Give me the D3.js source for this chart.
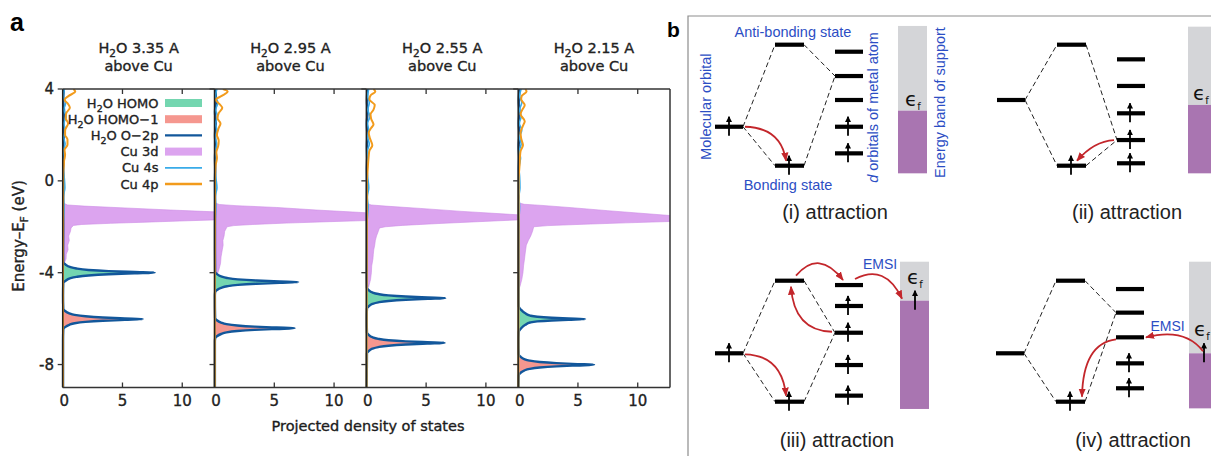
<!DOCTYPE html>
<html>
<head>
<meta charset="utf-8">
<script src="https://cdn.jsdelivr.net/npm/d3@7"></script>
<style>
  body { margin: 0; background: #fff; }
  svg { display: block; font-family: "DejaVu Sans", sans-serif; }
  .panel-a text { stroke: #222; stroke-width: 0.35; }
  .sch { font-family: "Liberation Sans", Arial, sans-serif; }
</style>
</head>
<body>
<svg id="fig" width="1211" height="456"></svg>
<script>
// ---------------- panel a data (energy in eV, PDOS value) ----------------
const distances = ["3.35", "2.95", "2.55", "2.15"];
const xTicks = [0, 5, 10];
const yTicks = [4, 0, -4, -8];
const legendLabels = ["H2O HOMO", "H2O HOMO−1", "H2O O−2p", "Cu 3d", "Cu 4s", "Cu 4p"];

// H2O HOMO peak, one array per panel
const homo = [
  [[-3.55,0.05],[-3.65,0.25],[-3.75,0.6],[-3.82,1.15],[-3.88,2.15],[-3.93,3.85],[-3.97,6.0],[-4.0,7.7],[-4.03,6.0],[-4.07,3.85],[-4.12,2.15],[-4.18,1.15],[-4.25,0.6],[-4.35,0.25],[-4.45,0.05]],
  [[-3.96,0.05],[-4.06,0.2],[-4.16,0.55],[-4.23,1.05],[-4.29,1.95],[-4.34,3.5],[-4.38,5.45],[-4.41,7.0],[-4.44,5.45],[-4.48,3.5],[-4.53,1.95],[-4.59,1.05],[-4.66,0.55],[-4.76,0.2],[-4.86,0.05]],
  [[-4.66,0.05],[-4.76,0.2],[-4.86,0.5],[-4.93,1.0],[-4.99,1.85],[-5.04,3.3],[-5.08,5.15],[-5.11,6.6],[-5.14,5.15],[-5.18,3.3],[-5.23,1.85],[-5.29,1.0],[-5.36,0.5],[-5.46,0.2],[-5.56,0.05]],
  [[-5.47,0.05],[-5.62,0.25],[-5.77,0.6],[-5.87,1.0],[-5.92,1.6],[-5.96,2.8],[-5.99,4.2],[-6.02,5.6],[-6.05,4.2],[-6.08,2.8],[-6.12,1.6],[-6.17,1.0],[-6.27,0.6],[-6.42,0.25],[-6.57,0.05]]
];

// H2O HOMO-1 peak
const homo1 = [
  [[-5.57,0.05],[-5.67,0.2],[-5.77,0.55],[-5.84,1.0],[-5.9,1.9],[-5.95,3.35],[-5.99,5.2],[-6.02,6.7],[-6.05,5.2],[-6.09,3.35],[-6.14,1.9],[-6.2,1.0],[-6.27,0.55],[-6.37,0.2],[-6.47,0.05]],
  [[-5.97,0.05],[-6.07,0.2],[-6.17,0.55],[-6.24,1.0],[-6.3,1.9],[-6.35,3.35],[-6.39,5.2],[-6.42,6.7],[-6.45,5.2],[-6.49,3.35],[-6.54,1.9],[-6.6,1.0],[-6.67,0.55],[-6.77,0.2],[-6.87,0.05]],
  [[-6.61,0.05],[-6.71,0.2],[-6.81,0.5],[-6.88,1.0],[-6.94,1.85],[-6.99,3.3],[-7.03,5.1],[-7.06,6.55],[-7.09,5.1],[-7.13,3.3],[-7.18,1.85],[-7.24,1.0],[-7.31,0.5],[-7.41,0.2],[-7.51,0.05]],
  [[-7.56,0.05],[-7.66,0.2],[-7.76,0.5],[-7.83,0.95],[-7.89,1.8],[-7.94,3.2],[-7.98,4.95],[-8.01,6.35],[-8.04,4.95],[-8.08,3.2],[-8.13,1.8],[-8.19,0.95],[-8.26,0.5],[-8.36,0.2],[-8.46,0.05]]
];

// O-2p away from the peaks
const o2pBase = [
  [[4,0.1],[3.5,0.04],[3.0,0.12],[2.5,0.05],[2.0,0.1],[1.5,0.04],[1.0,0.08],[0.5,0.04],[0,0.06],[-1,0.04],[-2,0.05],[-3,0.04],[-5,0.03],[-7,0.03],[-9,0.03]],
  [[4,0.08],[3.5,0.12],[3.0,0.04],[2.5,0.1],[2.0,0.04],[1.5,0.08],[1.0,0.04],[0.5,0.06],[0,0.04],[-1,0.05],[-2,0.04],[-3,0.04],[-5,0.03],[-7,0.03],[-9,0.03]],
  [[4,0.1],[3.5,0.05],[3.0,0.1],[2.5,0.04],[2.0,0.08],[1.5,0.05],[1.0,0.07],[0.5,0.04],[0,0.05],[-1,0.04],[-2,0.04],[-3,0.04],[-4,0.03],[-6,0.03],[-9,0.03]],
  [[4,0.12],[3.5,0.05],[3.0,0.1],[2.5,0.05],[2.0,0.1],[1.5,0.04],[1.0,0.08],[0.5,0.05],[0,0.05],[-1,0.05],[-2,0.05],[-3,0.04],[-4,0.04],[-5,0.04],[-7,0.03],[-9,0.03]]
];

// Cu 3d (runs off the right edge between about -1.4 and -1.7 eV)
const cu3d = [
  [[-0.95,0],[-1.05,0.4],[-1.1,1.8],[-1.18,5.2],[-1.27,9.0],[-1.35,12.7],[-1.45,17],[-1.62,17],[-1.7,12.7],[-1.75,9.8],[-1.8,6.9],[-1.85,4.0],[-1.9,1.6],[-1.94,0.9],[-2.05,0.7],[-2.2,0.65],[-2.4,0.5],[-2.6,0.55],[-2.8,0.42],[-3.0,0.45],[-3.2,0.3],[-3.4,0.28],[-3.6,0.12],[-3.8,0]],
  [[-0.95,0],[-1.03,0.4],[-1.08,1.8],[-1.16,5.2],[-1.27,8.5],[-1.39,12.7],[-1.5,17],[-1.64,17],[-1.73,12.7],[-1.78,9.5],[-1.84,6.0],[-1.9,3.2],[-1.95,1.6],[-2.0,1.05],[-2.2,0.85],[-2.4,0.8],[-2.6,0.7],[-2.8,0.72],[-3.0,0.65],[-3.3,0.55],[-3.6,0.5],[-3.9,0.35],[-4.1,0.2],[-4.3,0]],
  [[-0.98,0],[-1.05,0.4],[-1.1,1.6],[-1.2,4.5],[-1.33,8.0],[-1.48,12.7],[-1.55,16],[-1.63,16],[-1.7,12.7],[-1.78,9.3],[-1.86,6.0],[-1.94,3.0],[-2.0,1.6],[-2.05,1.1],[-2.2,1.0],[-2.4,0.85],[-2.6,0.75],[-2.8,0.7],[-3.0,0.62],[-3.2,0.58],[-3.4,0.55],[-3.7,0.45],[-4.0,0.42],[-4.3,0.35],[-4.6,0.2],[-4.75,0]],
  [[-0.95,0],[-1.02,0.5],[-1.07,2.0],[-1.17,4.5],[-1.3,7.5],[-1.51,12.7],[-1.6,16],[-1.7,16],[-1.77,12.7],[-1.83,9.0],[-1.89,5.5],[-1.95,2.5],[-2.0,1.3],[-2.2,1.2],[-2.4,1.05],[-2.6,0.85],[-2.8,0.68],[-3.1,0.6],[-3.4,0.53],[-3.7,0.45],[-4.0,0.4],[-4.3,0.3],[-4.6,0.15],[-4.8,0]]
];

// Cu 4s
const cu4s = [
  [[4,0.15],[3.7,0.05],[3.4,0.25],[3.1,0.1],[2.8,0.3],[2.5,0.1],[2.2,0.22],[1.9,0.08],[1.6,0.2],[1.3,0.06],[1.0,0.14],[0.6,0.05],[0.2,0.12],[-0.3,0.18],[-0.7,0.06],[-1.1,0.12],[-2,0.03],[-9,0.02]],
  [[4,0.2],[3.7,0.08],[3.4,0.28],[3.1,0.1],[2.8,0.25],[2.5,0.08],[2.2,0.2],[1.9,0.06],[1.6,0.18],[1.3,0.06],[1.0,0.15],[0.6,0.05],[0.2,0.1],[-0.3,0.2],[-0.7,0.06],[-1.1,0.1],[-2,0.03],[-9,0.02]],
  [[4,0.2],[3.7,0.1],[3.4,0.25],[3.1,0.12],[2.8,0.3],[2.5,0.1],[2.2,0.2],[1.9,0.1],[1.6,0.25],[1.3,0.08],[1.0,0.15],[0.6,0.06],[0.2,0.1],[-0.3,0.2],[-0.7,0.08],[-1.1,0.15],[-2,0.04],[-9,0.02]],
  [[4,0.25],[3.7,0.12],[3.4,0.3],[3.1,0.12],[2.8,0.25],[2.5,0.1],[2.2,0.3],[1.9,0.1],[1.6,0.25],[1.3,0.08],[1.0,0.2],[0.6,0.06],[0.2,0.12],[-0.3,0.15],[-0.7,0.06],[-1.1,0.12],[-2,0.04],[-9,0.02]]
];

// Cu 4p
const cu4p = [
  [[4,0.9],[3.89,1.05],[3.7,0.5],[3.53,0.15],[3.35,0.45],[3.18,0.6],[2.95,0.3],[2.73,0.25],[2.5,0.45],[2.2,0.2],[2.0,0.2],[1.8,0.4],[1.57,0.4],[1.35,0.15],[1.13,0.2],[0.9,0.12],[0.7,0.1],[0.4,0.05],[0,0.04],[-9,0.02]],
  [[4,0.7],[3.89,1.1],[3.7,0.6],[3.53,0.1],[3.35,0.4],[3.18,0.65],[2.95,0.35],[2.73,0.25],[2.5,0.5],[2.3,0.35],[2.0,0.2],[1.75,0.35],[1.5,0.3],[1.25,0.15],[1.0,0.2],[0.7,0.1],[0.3,0.05],[0,0.04],[-9,0.02]],
  [[4,0.6],[3.89,0.75],[3.72,0.35],[3.55,0.25],[3.3,0.7],[3.1,0.6],[2.9,0.35],[2.7,0.4],[2.45,0.6],[2.3,0.4],[2.1,0.2],[1.85,0.3],[1.55,0.5],[1.3,0.25],[1.1,0.2],[0.8,0.15],[0.4,0.1],[0,0.05],[-9,0.02]],
  [[4,0.6],[3.89,0.7],[3.7,0.3],[3.55,0.25],[3.3,0.55],[3.1,0.35],[2.9,0.2],[2.6,0.55],[2.4,0.4],[2.1,0.2],[1.85,0.25],[1.55,0.4],[1.3,0.2],[1.05,0.15],[0.7,0.12],[0.3,0.06],[0,0.04],[-9,0.02]]
];

// ---------------- panel b data (schematic energies, arbitrary units) ----------------
const schemeLabels = ["(i) attraction", "(ii) attraction", "(iii) attraction", "(iv) attraction"];
const moLevel = [3.22, 5.43, 4.0, 4.0];
const moSpin = [true, false, true, false];
const antiLevel = [10, 10, 10, 10];
const bondLevel = [0, 0, 0, 0];
const dLevels = [
  [9.42, 7.41, 5.43, 3.22, 1.02],
  [8.79, 6.59, 4.33, 2.12, 0.2],
  [9.64, 7.91, 5.7, 3.03, 0.5],
  [9.31, 7.36, 5.32, 3.17, 1.11]
];
const dSpins = [
  [false, false, false, true, true],
  [false, false, true, true, true],
  [false, true, true, true, true],
  [false, false, false, true, true]
];
const dLink = [1, 3, 2, 1]; // d level joined to the bonding/anti-bonding pair
const fermiLevel = [4.55, 5.02, 8.35, 4.0];
const bandTop = [11.55, 11.49, 11.57, 11.57];
const bandBottom = [-0.63, -0.63, -0.6, -0.55];
const fermiSpin = [false, false, true, true];

// ---------------- drawing ----------------
const svg = d3.select("#fig");
const colors = {
  homo: "#74d6b0", homo1: "#f5978f", o2p: "#12579b",
  cu3d: "#dca4ef", cu4s: "#39abe8", cu4p: "#f29b1c"
};

const defs = svg.append("defs");

// ===== panel a =====
const plotLeft = 62.7, plotRight = 670, plotTop = 89, plotBottom = 387.5;
const panelW = (plotRight - plotLeft) / distances.length;
const xScale = d3.scaleLinear().domain([0, 12.7]).range([0, panelW]);
const yScale = d3.scaleLinear().domain([-9, 4]).range([plotBottom, plotTop]);

const areaGen = d3.area()
  .curve(d3.curveMonotoneY)
  .y((d) => yScale(d[0]))
  .x0(xScale(0))
  .x1((d) => xScale(d[1]));
const area3d = d3.area()
  .y((d) => yScale(d[0]))
  .x0(xScale(0))
  .x1((d) => xScale(d[1]));
const lineGen = d3.line()
  .curve(d3.curveMonotoneY)
  .x((d) => xScale(d[1]))
  .y((d) => yScale(d[0]));

// adds text with "H2O" -> H subscript 2 O
function chemText(sel, str, subSize) {
  const parts = str.split("H2O");
  parts.forEach((p, k) => {
    if (k > 0) {
      sel.append("tspan").text("H");
      sel.append("tspan").attr("dy", 4).attr("font-size", subSize).text("2");
      sel.append("tspan").attr("dy", -4).text("O" + p);
    } else if (p.length) {
      sel.append("tspan").text(p);
    }
  });
}

// O-2p line = baseline points outside the peaks + the two peaks
function o2pLine(i) {
  const peaks = homo[i].concat(homo1[i]);
  const ranges = [homo[i], homo1[i]].map((p) => [p[p.length - 1][0], p[0][0]]);
  const base = o2pBase[i].filter((d) => !ranges.some((r) => d[0] >= r[0] - 0.05 && d[0] <= r[1] + 0.05));
  return base.concat(peaks).sort((a, b) => b[0] - a[0]);
}

const panelA = svg.append("g").attr("class", "panel-a");

distances.forEach((dist, i) => {
  const x0 = plotLeft + i * panelW;
  const g = panelA.append("g").attr("transform", `translate(${x0},0)`);

  defs.append("clipPath").attr("id", `clip${i}`)
    .append("rect")
    .attr("x", -3).attr("y", plotTop)
    .attr("width", panelW + 3).attr("height", plotBottom - plotTop);

  const data = g.append("g").attr("clip-path", `url(#clip${i})`);

  data.append("path").attr("d", area3d(cu3d[i]))
    .attr("fill", colors.cu3d).attr("stroke", "#cd8ce6").attr("stroke-width", 0.6);
  data.append("path").attr("d", areaGen(homo[i])).attr("fill", colors.homo);
  data.append("path").attr("d", areaGen(homo1[i])).attr("fill", colors.homo1);
  data.append("path").attr("d", lineGen(o2pLine(i)))
    .attr("fill", "none").attr("stroke", colors.o2p).attr("stroke-width", 2.4);
  data.append("path").attr("d", lineGen(cu4s[i]))
    .attr("fill", "none").attr("stroke", colors.cu4s).attr("stroke-width", 1.6);
  data.append("path").attr("d", lineGen(cu4p[i]))
    .attr("fill", "none").attr("stroke", colors.cu4p).attr("stroke-width", 2);

  // left border of each panel
  g.append("line")
    .attr("x1", 0).attr("x2", 0).attr("y1", plotTop).attr("y2", plotBottom)
    .attr("stroke", "#222").attr("stroke-width", 1.5);

  // x ticks inside, top and bottom
  xTicks.filter((t) => t > 0).forEach((t) => {
    g.append("line").attr("x1", xScale(t)).attr("x2", xScale(t))
      .attr("y1", plotBottom).attr("y2", plotBottom - 5)
      .attr("stroke", "#333").attr("stroke-width", 1.3);
    g.append("line").attr("x1", xScale(t)).attr("x2", xScale(t))
      .attr("y1", plotTop).attr("y2", plotTop + 5)
      .attr("stroke", "#333").attr("stroke-width", 1.3);
  });
  // y ticks outward on the left of each panel
  yTicks.forEach((t) => {
    g.append("line").attr("x1", -5).attr("x2", 0)
      .attr("y1", yScale(t)).attr("y2", yScale(t))
      .attr("stroke", "#333").attr("stroke-width", 1.3);
  });

  g.selectAll("text.xt")
    .data(xTicks)
    .enter()
    .append("text")
    .attr("class", "xt")
    .attr("x", (d) => xScale(d) + (d === 0 ? 1.5 : 0))
    .attr("y", 406)
    .attr("text-anchor", "middle")
    .attr("font-size", 15)
    .attr("fill", "#222")
    .text((d) => d);

  // panel title
  const t1 = g.append("text")
    .attr("x", panelW / 2).attr("y", 52.5)
    .attr("text-anchor", "middle").attr("font-size", 14.5).attr("fill", "#222");
  chemText(t1, `H2O ${dist} A`, 10.5);
  g.append("text")
    .attr("x", panelW / 2).attr("y", 71)
    .attr("text-anchor", "middle").attr("font-size", 14.5).attr("fill", "#222")
    .text("above Cu");
});

// frame top/bottom and right edge
panelA.append("line").attr("x1", plotLeft).attr("x2", plotRight)
  .attr("y1", plotTop).attr("y2", plotTop).attr("stroke", "#333").attr("stroke-width", 1.5);
panelA.append("line").attr("x1", plotLeft).attr("x2", plotRight)
  .attr("y1", plotBottom).attr("y2", plotBottom).attr("stroke", "#333").attr("stroke-width", 1.5);
panelA.append("line").attr("x1", plotRight).attr("x2", plotRight)
  .attr("y1", plotTop).attr("y2", plotBottom).attr("stroke", "#333").attr("stroke-width", 1.5);

// y tick labels
panelA.selectAll("text.yt")
  .data(yTicks)
  .enter()
  .append("text")
  .attr("class", "yt")
  .attr("x", 54)
  .attr("y", (d) => yScale(d))
  .attr("dy", "0.36em")
  .attr("text-anchor", "end")
  .attr("font-size", 15)
  .attr("fill", "#222")
  .text((d) => String(d).replace("−", "-"));

// axis labels
const yLab = panelA.append("text")
  .attr("transform", "translate(24,236) rotate(-90)")
  .attr("text-anchor", "middle").attr("font-size", 15).attr("fill", "#222");
yLab.append("tspan").text("Energy–E");
yLab.append("tspan").attr("dy", 4).attr("font-size", 10.5).text("F");
yLab.append("tspan").attr("dy", -4).text(" (eV)");

panelA.append("text")
  .attr("x", 368).attr("y", 431)
  .attr("text-anchor", "middle").attr("font-size", 14.5).attr("fill", "#1a1a1a")
  .text("Projected density of states");

panelA.append("text")
  .attr("x", 10).attr("y", 31)
  .attr("font-family", "Liberation Sans, Arial, sans-serif")
  .attr("font-weight", "bold").attr("font-size", 25)
  .style("stroke-width", 0)
  .text("a");

// legend
const legendKinds = ["fill", "fill", "line", "fill", "line", "line"];
const legendColors = [colors.homo, colors.homo1, colors.o2p, colors.cu3d, colors.cu4s, colors.cu4p];
const legend = panelA.append("g").attr("class", "legend");
legendLabels.forEach((lab, k) => {
  const y = 103 + k * 16.2;
  const t = legend.append("text")
    .attr("x", 158.5).attr("y", y).attr("dy", "0.35em")
    .attr("text-anchor", "end").attr("font-size", 13).attr("fill", "#222");
  chemText(t, lab, 9.5);
  if (legendKinds[k] === "fill") {
    legend.append("rect").attr("x", 165).attr("y", y - 4)
      .attr("width", 37).attr("height", 8).attr("fill", legendColors[k]);
  } else {
    legend.append("line").attr("x1", 165).attr("x2", 202)
      .attr("y1", y).attr("y2", y)
      .attr("stroke", legendColors[k]).attr("stroke-width", k === 4 ? 1.8 : 2.4);
  }
});

// ===== panel b =====
const panelB = svg.append("g").attr("class", "sch");
const blue = "#2c4ec4";
const red = "#c3262b";

defs.append("marker").attr("id", "redHead")
  .attr("viewBox", "0 0 10 8").attr("refX", 9).attr("refY", 4)
  .attr("markerWidth", 9).attr("markerHeight", 7.5)
  .attr("markerUnits", "userSpaceOnUse").attr("orient", "auto")
  .append("path").attr("d", "M0,0 L10,4 L0,8 Z").attr("fill", red);
defs.append("marker").attr("id", "spinHead")
  .attr("viewBox", "0 0 8 8").attr("refX", 7).attr("refY", 4)
  .attr("markerWidth", 6).attr("markerHeight", 6)
  .attr("markerUnits", "userSpaceOnUse").attr("orient", "auto")
  .append("path").attr("d", "M0,0 L8,4 L0,8 Z").attr("fill", "#000");

panelB.append("path")
  .attr("d", "M688,456 L688,16 L1211,16")
  .attr("fill", "none").attr("stroke", "#8d8d8d").attr("stroke-width", 1.2);

panelB.append("text").attr("x", 667).attr("y", 37)
  .attr("font-weight", "bold").attr("font-size", 21).text("b");

const rowBase = [165.7, 165.7, 401.7, 401.7];
const originX = [715, 997, 715, 996];
const bandOffset = [183, 191, 185, 193];
const labelX = [835, 1127, 837, 1133];
const labelY = [219, 219, 447, 447];

function spin(g, x, y) {
  g.append("line")
    .attr("x1", x).attr("x2", x).attr("y1", y + 9).attr("y2", y - 10)
    .attr("stroke", "#000").attr("stroke-width", 1.8)
    .attr("marker-end", "url(#spinHead)");
}
function level(g, x, y, w) {
  g.append("line").attr("x1", x).attr("x2", x + w).attr("y1", y).attr("y2", y)
    .attr("stroke", "#000").attr("stroke-width", 4.2);
}
function dashed(g, a, b) {
  g.append("line").attr("x1", a[0]).attr("y1", a[1]).attr("x2", b[0]).attr("y2", b[1])
    .attr("stroke", "#222").attr("stroke-width", 1).attr("stroke-dasharray", "5,3");
}
function redArrow(g, from, ctrl, to) {
  const p = d3.path();
  p.moveTo(from[0], from[1]);
  p.quadraticCurveTo(ctrl[0], ctrl[1], to[0], to[1]);
  g.append("path").attr("d", p.toString())
    .attr("fill", "none").attr("stroke", red).attr("stroke-width", 1.8)
    .attr("marker-end", "url(#redHead)");
}
function epsF(g, x, y) {
  const t = g.append("text").attr("x", x).attr("y", y)
    .attr("font-family", "DejaVu Sans, sans-serif").attr("font-size", 20).attr("fill", "#111");
  t.append("tspan").text("ϵ");
  t.append("tspan").attr("dy", 4).attr("font-size", 10).text("f");
}

schemeLabels.forEach((lab, i) => {
  const g = panelB.append("g");
  const y = d3.scaleLinear().domain([0, 10]).range([rowBase[i], rowBase[i] - 121]);
  const ox = originX[i];
  const moX = ox, bondX = ox + 60, dX = ox + 120, bandX = ox + bandOffset[i];
  const moW = 28, bondW = 29, dW = 28;

  // support energy band
  g.append("rect").attr("x", bandX).attr("y", y(bandTop[i]))
    .attr("width", 29).attr("height", y(fermiLevel[i]) - y(bandTop[i]))
    .attr("fill", "#d4d5d8");
  g.append("rect").attr("x", bandX).attr("y", y(fermiLevel[i]))
    .attr("width", 29).attr("height", y(bandBottom[i]) - y(fermiLevel[i]))
    .attr("fill", "#a975b1");
  epsF(g, bandX + (i % 2 ? 5 : 7), y(fermiLevel[i]) - (fermiSpin[i] ? 17 : 5));
  if (fermiSpin[i]) spin(g, bandX + 15, y(fermiLevel[i]));

  // dashed correlation lines
  const link = [dX, y(dLevels[i][dLink[i]])];
  dashed(g, [moX + moW, y(moLevel[i])], [bondX, y(antiLevel[i])]);
  dashed(g, [moX + moW, y(moLevel[i])], [bondX, y(bondLevel[i])]);
  dashed(g, [bondX + bondW, y(antiLevel[i])], link);
  dashed(g, [bondX + bondW, y(bondLevel[i])], link);

  // levels
  level(g, moX, y(moLevel[i]), moW);
  level(g, bondX, y(antiLevel[i]), bondW);
  level(g, bondX, y(bondLevel[i]), bondW);
  dLevels[i].forEach((e) => level(g, dX, y(e), dW));

  // spins
  if (moSpin[i]) spin(g, moX + 14, y(moLevel[i]));
  spin(g, bondX + 14, y(bondLevel[i]));
  dLevels[i].forEach((e, k) => { if (dSpins[i][k]) spin(g, dX + 13, y(e)); });

  g.append("text").attr("x", labelX[i]).attr("y", labelY[i])
    .attr("text-anchor", "middle").attr("font-size", 20).attr("fill", "#222")
    .text(lab);

  // electron transfer arrows
  const yMO = y(moLevel[i]), yB = y(bondLevel[i]), yA = y(antiLevel[i]);
  const yL = y(dLevels[i][dLink[i]]), yF = y(fermiLevel[i]);
  if (i === 0) {
    redArrow(g, [moX + moW + 2, yMO], [bondX + 6, yMO + 1], [bondX + 11, yB - 5]);
  } else if (i === 1) {
    redArrow(g, [dX - 3, yL], [bondX + 37, yL + 1], [bondX + 20, yB - 5]);
  } else if (i === 2) {
    const y0 = y(dLevels[i][0]);
    redArrow(g, [moX + moW + 2, yMO + 1], [bondX + 7, yMO + 2], [bondX + 11, yB - 6]);
    redArrow(g, [dX - 3, yL - 1], [bondX + 19, yL - 2], [bondX + 16, yA + 6]);
    redArrow(g, [bondX + 21, yA - 5], [bondX + 44, yA - 32], [dX + 8, y0 - 5]);
    redArrow(g, [dX + 20, y0 - 6], [dX + 50, y0 - 22], [bandX + 2, yF - 2]);
  } else {
    const y2 = y(dLevels[i][2]);
    redArrow(g, [bandX + 14, yF - 2], [bandX - 4, y2 - 10], [dX + dW + 2, y2]);
    redArrow(g, [dX, y2 + 2], [bondX + 27, y2 + 6], [bondX + 26, yB - 5]);
  }
});

// blue annotations
const notes = panelB.append("g").attr("fill", blue).attr("font-size", 14.5);
notes.append("text").attr("x", 793).attr("y", 36.5).attr("text-anchor", "middle").text("Anti-bonding state");
notes.append("text").attr("x", 788).attr("y", 190).attr("text-anchor", "middle").text("Bonding state");
notes.append("text").attr("transform", "translate(710.5,106.7) rotate(-90)")
  .attr("text-anchor", "middle").text("Molecular orbital");
const dTxt = notes.append("text").attr("transform", "translate(878,107.5) rotate(-90)")
  .attr("text-anchor", "middle");
dTxt.append("tspan").attr("font-style", "italic").text("d");
dTxt.append("tspan").text(" orbitals of metal atom");
notes.append("text").attr("transform", "translate(945,102.5) rotate(-90)")
  .attr("text-anchor", "middle").text("Energy band of support");
notes.append("text").attr("x", 880).attr("y", 269).attr("text-anchor", "middle").attr("font-size", 14).text("EMSI");
notes.append("text").attr("x", 1167.5).attr("y", 330.5).attr("text-anchor", "middle").attr("font-size", 14).text("EMSI");
</script>
</body>
</html>
